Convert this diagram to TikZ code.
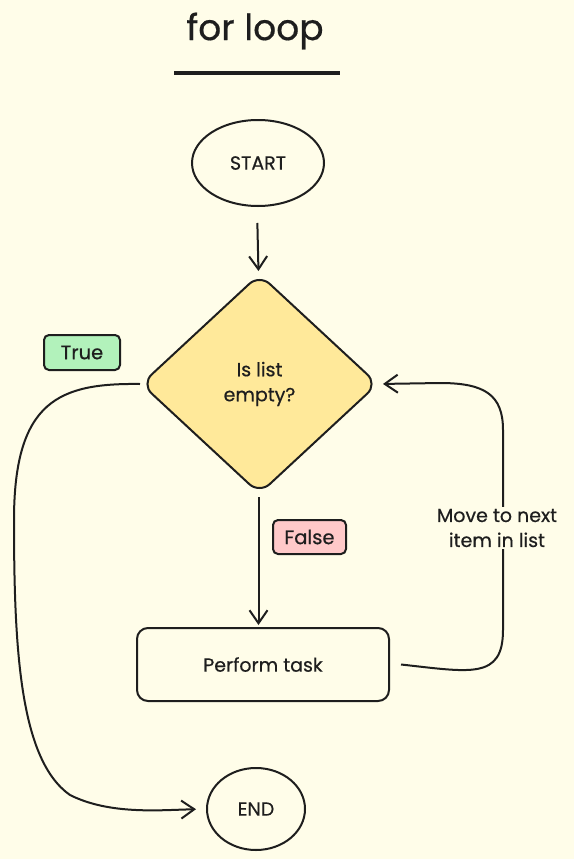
\documentclass[tikz,border=0pt]{standalone}
\usepackage{fontspec}
\setmainfont{Poppins}[FakeBold=0.5]
\usetikzlibrary{shapes.geometric,arrows.meta}
\definecolor{bg}{HTML}{FFFDE9}
\definecolor{ink}{HTML}{1E1E1E}
\definecolor{yel}{HTML}{FFE99A}
\definecolor{grn}{HTML}{B2F2BB}
\definecolor{pnk}{HTML}{FFC9C9}
\tikzset{
  shp/.style={draw=ink, line width=2pt, text=ink, font=\fontsize{19}{25}\selectfont, align=center},
  oval/.style={shp, ellipse, inner sep=0pt},
  tag/.style={draw=ink, line width=2pt, rounded corners=5pt, text=ink, font=\fontsize{19.5}{20}\selectfont, inner sep=0pt},
  conn/.style={draw=ink, line width=2pt, -{Straight Barb[length=13pt,width=18pt,line width=2pt]}},
}
\begin{document}
\begin{tikzpicture}[x=1pt,y=-1pt]
\fill[bg] (0,0) rectangle (574,859);
\useasboundingbox (0,0) rectangle (574,859);
% title
\node[text=ink, font=\fontsize{36}{40}\selectfont] (title) at (255,31) {for loop};
\draw[ink, line width=3pt] (174,73) -- (340,73);
% nodes
\node[oval, minimum width=132pt, minimum height=86pt] (start) at (258,163) {START};
\node[shp, diamond, fill=yel, minimum width=237pt, minimum height=220pt, inner sep=0pt, rounded corners=14pt] (dec) at (259.5,384) {Is list\\empty?};
\node[shp, rectangle, rounded corners=11pt, minimum width=252pt, minimum height=73pt] (task) at (263,664.5) {Perform task};
\node[oval, minimum width=98pt, minimum height=82pt] (end) at (256,809) {END};
\node[tag, fill=grn, minimum width=76pt, minimum height=35pt] (true) at (82,352.5) {True};
\node[tag, fill=pnk, minimum width=73pt, minimum height=34pt] (false) at (309.5,537) {False};
% connectors
\draw[conn, shorten <=16pt, shorten >=2pt] ([xshift=-1pt]start.south) -- ([xshift=-1pt]dec.north);
\draw[conn, shorten <=2pt, shorten >=2pt] ([xshift=-1pt]dec.south) -- ([xshift=-1pt]dec.south |- task.north);
\draw[conn, shorten >=10pt] (dec.west) .. controls (60,383) and (14,400) .. (14,520)
  .. controls (14,650) and (20,760) .. (70,795) .. controls (110,815) and (160,810) .. (end.west);
\draw[conn, shorten >=4pt] ([xshift=11pt]task.east) .. controls (470,672) and (503,680) .. (503,630)
  -- (503,430) .. controls (503,395) and (485,383) .. (440,383) -- (dec.east);
\node[fill=bg, text=ink, font=\fontsize{19}{25}\selectfont, align=center, inner sep=2pt] (lbl) at (497,528) {Move to next\\item in list};
\end{tikzpicture}
\end{document}
